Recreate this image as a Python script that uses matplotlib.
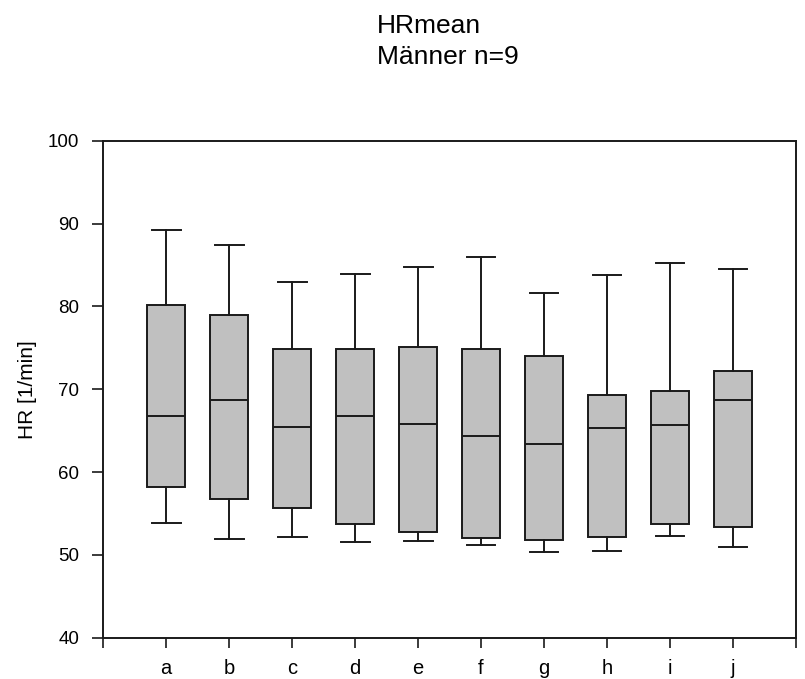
import matplotlib
matplotlib.use("Agg")
import matplotlib.pyplot as plt

plt.rcParams["font.family"] = ["Liberation Sans", "DejaVu Sans"]

# Box-plot summary per condition (1/min)
categories = ["a", "b", "c", "d", "e", "f", "g", "h", "i", "j"]
whisker_low = [53.8, 51.9, 52.2, 51.6, 51.7, 51.2, 50.3, 50.5, 52.3, 51.0]
q1 = [58.2, 56.7, 55.7, 53.7, 52.8, 52.0, 51.8, 52.2, 53.7, 53.4]
median = [66.8, 68.7, 65.4, 66.8, 65.8, 64.3, 63.4, 65.3, 65.7, 68.7]
q3 = [80.2, 78.9, 74.9, 74.9, 75.1, 74.9, 74.0, 69.3, 69.8, 72.2]
whisker_high = [89.2, 87.4, 82.9, 83.9, 84.7, 86.0, 81.6, 83.8, 85.2, 84.5]

yticks = [40, 50, 60, 70, 80, 90, 100]

fig = plt.figure(figsize=(8.05, 6.79), dpi=100)
ax = fig.add_axes([0.128, 0.0608, 0.8608, 0.732])

stats = []
for name, lo, a, m, b, hi in zip(categories, whisker_low, q1, median, q3, whisker_high):
    stats.append(dict(label=name, whislo=lo, q1=a, med=m, q3=b, whishi=hi, fliers=[]))

positions = list(range(1, len(categories) + 1))
line_kw = dict(color="#1a1a1a", linewidth=1.4)
ax.bxp(
    stats,
    positions=positions,
    widths=0.59,
    capwidths=0.46,
    patch_artist=True,
    showfliers=False,
    boxprops=dict(facecolor="#c0c0c0", edgecolor="#1a1a1a", linewidth=1.4),
    medianprops=line_kw,
    whiskerprops=line_kw,
    capprops=line_kw,
)

ax.set_xlim(0, len(categories) + 1)
ax.set_ylim(40, 100)
ax.set_yticks(yticks)
ax.set_yticklabels([str(v) for v in yticks], fontsize=13.5)

ax.set_xticks([0] + positions + [len(categories) + 1])
ax.set_xticklabels([""] + categories + [""], fontsize=14.5)

ax.tick_params(axis="y", direction="out", length=8, width=1.2, pad=9, colors="#1a1a1a", labelcolor="black")
ax.tick_params(axis="x", direction="out", length=7, width=1.2, pad=8, colors="#1a1a1a", labelcolor="black")

for spine in ax.spines.values():
    spine.set_linewidth(1.4)
    spine.set_color("#1a1a1a")

ax.set_ylabel("HR [1/min]", fontsize=15)
ax.yaxis.set_label_coords(-0.095, 0.5)

fig.text(0.468, 0.9514, "HRmean", fontsize=19, ha="left", va="baseline")
fig.text(0.468, 0.9057, "Männer n=9", fontsize=19, ha="left", va="baseline")

fig.savefig("out.png", dpi=100, facecolor="white")
